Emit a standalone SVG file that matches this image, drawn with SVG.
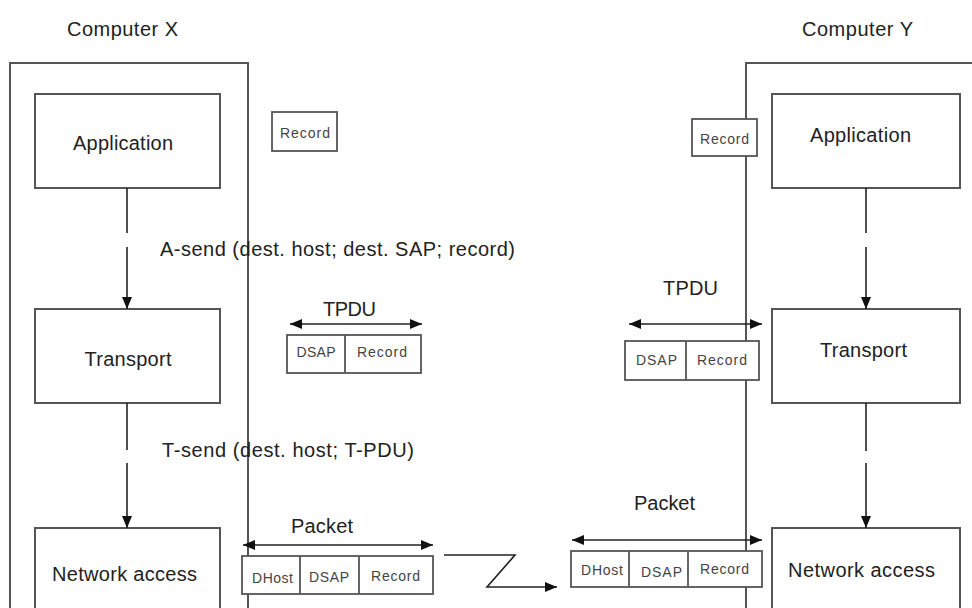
<svg xmlns="http://www.w3.org/2000/svg" width="972" height="608" viewBox="0 0 972 608">
<defs>
<marker id="ah" markerUnits="userSpaceOnUse" markerWidth="12" markerHeight="10" refX="12" refY="5" orient="auto-start-reverse" viewBox="0 0 12 10">
<path d="M0,0 L12,5 L0,10 z" fill="#111"/>
</marker>
</defs>
<style>
.box{fill:none;stroke:#555;stroke-width:2}
.cell{fill:#fff;stroke:#555;stroke-width:1.8}
.ln{fill:none;stroke:#222;stroke-width:1.6}
.big{font-family:"Liberation Sans",Arial,sans-serif;font-size:20px;fill:#222}
.sm{font-family:"Liberation Sans",Arial,sans-serif;font-size:14px;fill:#444}
.mid{text-anchor:middle}
</style>
<rect width="972" height="608" fill="#fff"/>

<g id="computerX">
<rect class="box" x="10" y="63" width="238" height="560"/>
<text class="big mid" x="122.5" y="36" textLength="111">Computer X</text>
</g>
<g id="computerY">
<rect class="box" x="746" y="63" width="240" height="560"/>
<text class="big mid" x="857.5" y="36" textLength="111">Computer Y</text>
</g>

<g id="appX">
<rect class="box" x="35" y="94" width="185" height="94"/>
<text class="big mid" x="123" y="150" textLength="100">Application</text>
</g>
<g id="transX">
<rect class="box" x="35" y="309" width="185" height="94"/>
<text class="big mid" x="128" y="366" textLength="87">Transport</text>
</g>
<g id="netX">
<rect class="box" x="35" y="528" width="185" height="100"/>
<text class="big mid" x="124.5" y="581" textLength="145">Network access</text>
</g>

<g id="appY">
<rect class="box" x="772" y="94" width="188" height="94"/>
<text class="big mid" x="860.5" y="142" textLength="101">Application</text>
</g>
<g id="transY">
<rect class="box" x="772" y="309" width="188" height="94"/>
<text class="big mid" x="863.5" y="357" textLength="87">Transport</text>
</g>
<g id="netY">
<rect class="box" x="772" y="528" width="188" height="100"/>
<text class="big mid" x="861.5" y="577" textLength="147">Network access</text>
</g>

<g id="recordX">
<rect class="cell" x="272" y="112" width="65" height="39"/>
<text class="sm mid" x="305" y="138" textLength="50">Record</text>
</g>
<g id="recordY">
<rect class="cell" x="692" y="119" width="65" height="37"/>
<text class="sm mid" x="724.5" y="144" textLength="49">Record</text>
</g>

<g id="tpduX">
<text class="big mid" x="349.5" y="316" textLength="53">TPDU</text>
<rect class="cell" x="287" y="335" width="134" height="38"/>
<line class="cell" x1="345" y1="335" x2="345" y2="373"/>
<text class="sm mid" x="316" y="357" textLength="39">DSAP</text>
<text class="sm mid" x="382" y="357" textLength="50">Record</text>
</g>
<g id="tpduY">
<text class="big mid" x="690.5" y="295" textLength="55">TPDU</text>
<rect class="cell" x="625" y="341" width="134" height="39"/>
<line class="cell" x1="686" y1="341" x2="686" y2="380"/>
<text class="sm mid" x="656.5" y="365" textLength="41">DSAP</text>
<text class="sm mid" x="722" y="365" textLength="50">Record</text>
</g>

<g id="packetX">
<text class="big mid" x="322" y="533" textLength="62">Packet</text>
<rect class="cell" x="242" y="556" width="191" height="38"/>
<line class="cell" x1="300" y1="556" x2="300" y2="594"/>
<line class="cell" x1="359" y1="556" x2="359" y2="594"/>
<text class="sm mid" x="272.5" y="583" textLength="41">DHost</text>
<text class="sm mid" x="329" y="582" textLength="40">DSAP</text>
<text class="sm mid" x="395.5" y="581" textLength="49">Record</text>
</g>
<g id="packetY">
<text class="big mid" x="664.5" y="510" textLength="61">Packet</text>
<rect class="cell" x="571" y="551" width="191" height="36"/>
<line class="cell" x1="629" y1="551" x2="629" y2="587"/>
<line class="cell" x1="688" y1="551" x2="688" y2="587"/>
<text class="sm mid" x="602" y="575" textLength="42">DHost</text>
<text class="sm mid" x="661.5" y="577" textLength="41">DSAP</text>
<text class="sm mid" x="724.5" y="574" textLength="49">Record</text>
</g>

<g id="labels">
<text class="big" x="160" y="256" textLength="355">A-send (dest. host; dest. SAP; record)</text>
<text class="big" x="162" y="457" textLength="252">T-send (dest. host; T-PDU)</text>
</g>

<g id="connectors">
<line class="ln" x1="127" y1="188" x2="127" y2="233"/>
<line class="ln" x1="127" y1="247" x2="127" y2="309" marker-end="url(#ah)"/>
<line class="ln" x1="127" y1="403" x2="127" y2="450"/>
<line class="ln" x1="127" y1="463" x2="127" y2="528" marker-end="url(#ah)"/>
<line class="ln" x1="866" y1="188" x2="866" y2="233"/>
<line class="ln" x1="866" y1="247" x2="866" y2="309" marker-end="url(#ah)"/>
<line class="ln" x1="866" y1="403" x2="866" y2="451"/>
<line class="ln" x1="866" y1="463" x2="866" y2="528" marker-end="url(#ah)"/>
<line class="ln" x1="290" y1="324" x2="422" y2="324" marker-start="url(#ah)" marker-end="url(#ah)"/>
<line class="ln" x1="629" y1="324" x2="762" y2="324" marker-start="url(#ah)" marker-end="url(#ah)"/>
<line class="ln" x1="243" y1="545" x2="433" y2="545" marker-start="url(#ah)" marker-end="url(#ah)"/>
<line class="ln" x1="572" y1="540" x2="762" y2="540" marker-start="url(#ah)" marker-end="url(#ah)"/>
<polyline class="ln" points="444,555 515,555 487,587 557,587" marker-end="url(#ah)"/>
</g>
</svg>
